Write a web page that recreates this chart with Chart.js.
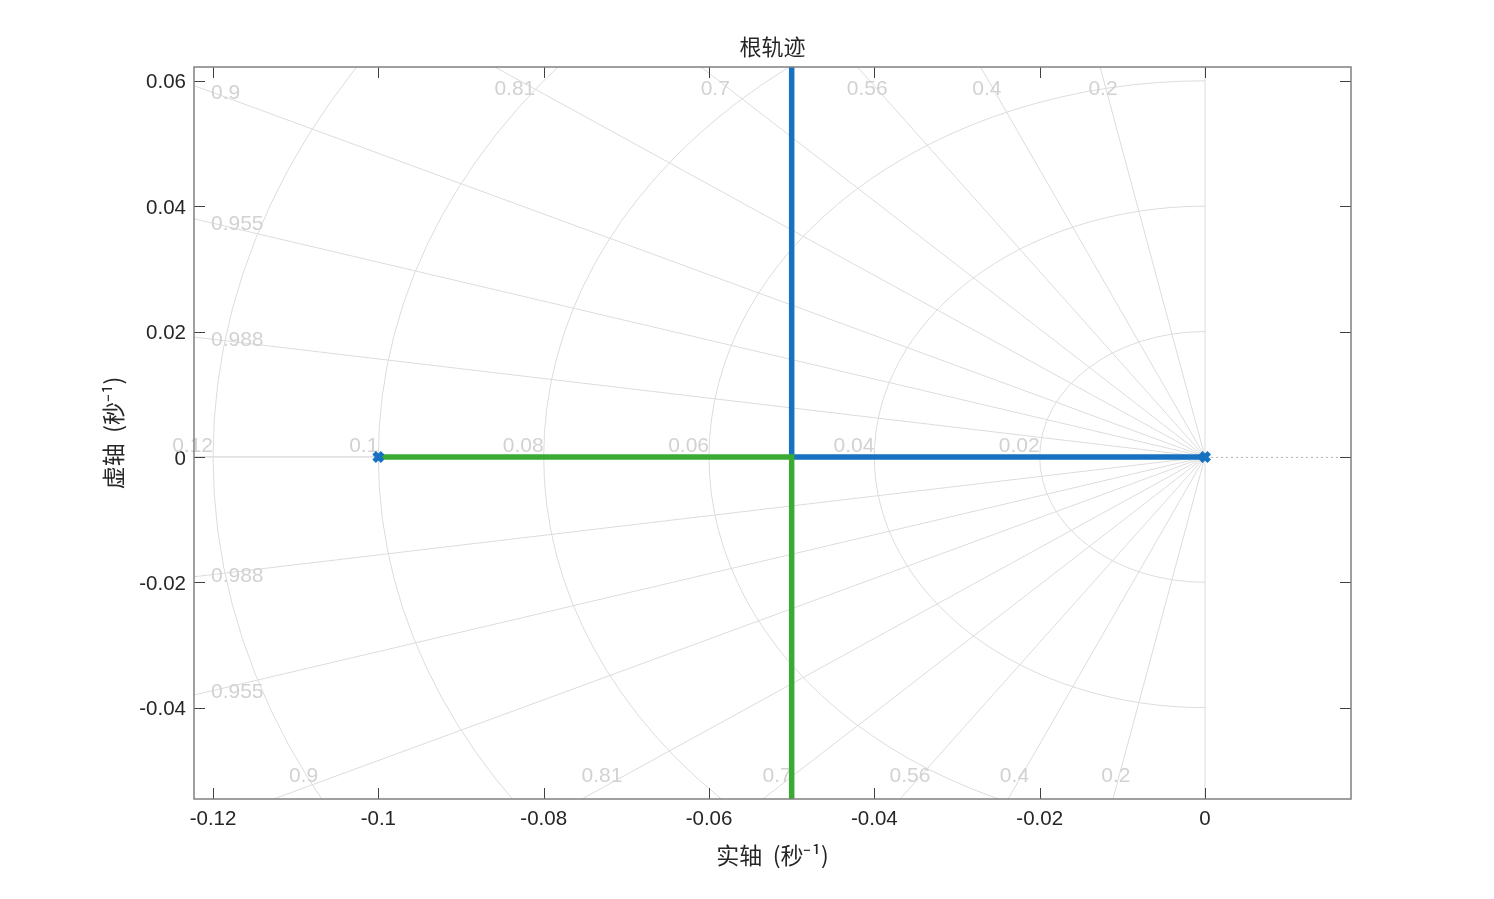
<!DOCTYPE html>
<html>
<head>
<meta charset="utf-8">
<script src="https://cdn.jsdelivr.net/npm/chart.js@4/dist/chart.umd.min.js"></script>
<style>
  html, body { margin: 0; padding: 0; background: #fff; }
  canvas { display: block; }
</style>
</head>
<body>
<canvas id="rlocus" width="1494" height="899"></canvas>
<script>
// root locus data (s-plane, 1/s)
const poleRe = [0, -0.1];
const poleIm = [0, 0];
const blueRe = [0, -0.05, -0.05];
const blueIm = [0, 0, 0.09];
const greenRe = [-0.1, -0.05, -0.05];
const greenIm = [0, 0, -0.09];

// sgrid: damping ratios and natural frequencies
const zetaVals = [0.2, 0.4, 0.56, 0.7, 0.81, 0.9, 0.955, 0.988];
const zetaLabels = ['0.2', '0.4', '0.56', '0.7', '0.81', '0.9', '0.955', '0.988'];
const wnVals = [0.02, 0.04, 0.06, 0.08, 0.1, 0.12];
const wnLabels = ['0.02', '0.04', '0.06', '0.08', '0.1', '0.12'];

// axes
const xTicks = [-0.12, -0.1, -0.08, -0.06, -0.04, -0.02, 0];
const yTicks = [-0.04, -0.02, 0, 0.02, 0.04, 0.06];
const xMin = -0.1223, xMax = 0.01766;
const yMin = -0.05457, yMax = 0.0622;

const TITLE = '根轨迹';
const XLABEL = '实轴  (秒⁻¹)';
const YLABEL = '虚轴  (秒⁻¹)';

const FONT = '"Liberation Sans", Arial, "Noto Sans CJK SC", sans-serif';
const CJK = '"Noto Sans CJK SC", "Liberation Sans", sans-serif';
const BLUE = '#1671c0';
const GREEN = '#3aaa35';
const GRID = '#dcdcdc';
const GRID_TXT = '#d2d2d2';

function pts(re, im) {
  return re.map((v, i) => ({ x: v, y: im[i] }));
}

const sgridPlugin = {
  id: 'sgrid',
  beforeDatasetsDraw(chart) {
    const c = chart.ctx, a = chart.chartArea;
    const xs = chart.scales.x, ys = chart.scales.y;
    const ox = xs.getPixelForValue(0), oy = ys.getPixelForValue(0);

    c.save();
    c.beginPath();
    c.rect(a.left, a.top, a.right - a.left, a.bottom - a.top);
    c.clip();
    c.strokeStyle = GRID;
    c.lineWidth = 1;

    // damping lines incl. zeta = 0 and zeta = 1
    [0, 1].concat(zetaVals).forEach(z => {
      const s = Math.sqrt(1 - z * z);
      [1, -1].forEach(sg => {
        c.beginPath();
        c.moveTo(ox, oy);
        c.lineTo(xs.getPixelForValue(-z), ys.getPixelForValue(sg * s));
        c.stroke();
      });
    });

    // natural frequency arcs
    wnVals.forEach(w => {
      const rx = ox - xs.getPixelForValue(-w);
      const ry = ys.getPixelForValue(-w) - oy;
      c.beginPath();
      c.ellipse(ox, oy, rx, ry, 0, Math.PI / 2, Math.PI * 1.5);
      c.stroke();
    });

    // dotted positive real axis
    c.strokeStyle = '#b4b4b4';
    c.setLineDash([2, 3]);
    c.beginPath();
    c.moveTo(ox + 6, oy + 0.5);
    c.lineTo(a.right, oy + 0.5);
    c.stroke();
    c.restore();

    // labels
    c.save();
    c.fillStyle = GRID_TXT;
    c.font = '21px ' + FONT;
    zetaVals.forEach((z, i) => {
      const s = Math.sqrt(1 - z * z);
      [1, -1].forEach(sg => {
        const dx = xs.getPixelForValue(-z) - ox;
        const dy = ys.getPixelForValue(sg * s) - oy;
        const edgeY = sg > 0 ? a.top : a.bottom;
        const tLeft = (a.left - ox) / dx;
        const tEdge = (edgeY - oy) / dy;
        c.textBaseline = 'middle';
        if (tLeft < tEdge) {
          const lx = a.left + 17;
          c.textAlign = 'left';
          c.fillText(zetaLabels[i], lx, oy + dy * (lx - ox) / dx + 1);
        } else {
          const ly = sg > 0 ? a.top + 11 : a.bottom - 11;
          const tx = ox + dx * (ly - oy) / dy;
          c.textAlign = 'center';
          c.fillText(zetaLabels[i], tx, sg > 0 ? a.top + 22 : a.bottom - 23);
        }
      });
    });
    wnVals.forEach((w, i) => {
      c.textAlign = 'right';
      c.textBaseline = 'middle';
      c.fillText(wnLabels[i], xs.getPixelForValue(-w), oy - 11);
    });
    c.restore();
  },
  afterDatasetsDraw(chart) {
    const c = chart.ctx, a = chart.chartArea;
    const xs = chart.scales.x, ys = chart.scales.y;
    c.save();
    // inward ticks on all four sides
    c.strokeStyle = '#404040';
    c.lineWidth = 1;
    c.beginPath();
    xTicks.forEach(v => {
      const px = Math.round(xs.getPixelForValue(v)) + 0.5;
      c.moveTo(px, a.bottom); c.lineTo(px, a.bottom - 11);
      c.moveTo(px, a.top); c.lineTo(px, a.top + 11);
    });
    yTicks.forEach(v => {
      const py = Math.round(ys.getPixelForValue(v)) + 0.5;
      c.moveTo(a.left, py); c.lineTo(a.left + 11, py);
      c.moveTo(a.right, py); c.lineTo(a.right - 11, py);
    });
    c.stroke();
    // box
    c.strokeStyle = '#808080';
    c.lineWidth = 1.5;
    c.strokeRect(a.left, a.top, a.right - a.left, a.bottom - a.top);

    // title and axis titles
    const cx = (a.left + a.right) / 2;
    c.fillStyle = '#262626';
    c.textAlign = 'center';
    c.textBaseline = 'middle';
    c.font = '22px ' + CJK;
    c.fillText(TITLE, cx, 47);
    c.font = '23px ' + CJK;
    c.fillText(XLABEL, cx, 855);
    c.translate(113, (a.top + a.bottom) / 2);
    c.rotate(-Math.PI / 2);
    c.fillText(YLABEL, 0, 0);
    c.restore();
  }
};

new Chart(document.getElementById('rlocus'), {
  type: 'scatter',
  data: {
    datasets: [
      {
        data: pts(poleRe, poleIm),
        showLine: false,
        pointStyle: 'crossRot',
        pointRadius: 6,
        pointBorderWidth: 5,
        pointBorderColor: BLUE,
        pointBackgroundColor: BLUE,
        order: 0
      },
      {
        data: pts(greenRe, greenIm),
        showLine: true,
        borderColor: GREEN,
        borderWidth: 5.5,
        pointRadius: 0,
        order: 1
      },
      {
        data: pts(blueRe, blueIm),
        showLine: true,
        borderColor: BLUE,
        borderWidth: 5.5,
        pointRadius: 0,
        order: 2
      }
    ]
  },
  options: {
    responsive: false,
    animation: false,
    devicePixelRatio: 1,
    layout: { padding: { left: 0, right: 143, top: 67, bottom: 0 } },
    plugins: {
      legend: { display: false },
      tooltip: { enabled: false },
      title: { display: false }
    },
    scales: {
      x: {
        type: 'linear',
        min: xMin,
        max: xMax,
        afterBuildTicks: s => { s.ticks = xTicks.map(v => ({ value: v })); },
        afterFit: s => { s.height = 100; },
        grid: { display: false },
        border: { display: false },
        ticks: {
          padding: 0,
          maxRotation: 0,
          color: '#262626',
          font: { family: FONT, size: 20.5 },
          callback: v => String(+v.toFixed(3))
        }
      },
      y: {
        type: 'linear',
        min: yMin,
        max: yMax,
        afterBuildTicks: s => { s.ticks = yTicks.map(v => ({ value: v })); },
        afterFit: s => { s.width = 194; },
        grid: { display: false },
        border: { display: false },
        ticks: {
          padding: 0,
          labelOffset: 2,
          color: '#262626',
          font: { family: FONT, size: 20.5 },
          callback: v => String(+v.toFixed(3))
        }
      }
    }
  },
  plugins: [sgridPlugin]
});
</script>
</body>
</html>
